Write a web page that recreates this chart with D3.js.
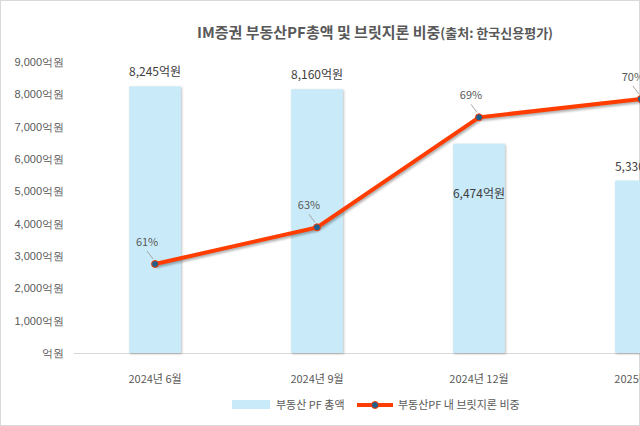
<!DOCTYPE html>
<html><head><meta charset="utf-8">
<script src="https://cdn.jsdelivr.net/npm/d3@7"></script>
<style>body{margin:0;overflow:hidden;background:#fff}</style>
</head><body>
<script>
// values
var categories = ["2024년 6월", "2024년 9월", "2024년 12월", "2025년 3월"];
var pfTotal = [8245, 8160, 6474, 5330];     // 억원
var bridgeShare = [61, 63, 69, 70];          // %
var yTicks = [0, 1000, 2000, 3000, 4000, 5000, 6000, 7000, 8000, 9000];

var width = 640, height = 426;
var font = "'Noto Sans CJK KR', 'Noto Sans', sans-serif";

var svg = d3.select("body").append("svg")
    .attr("width", width)
    .attr("height", height)
    .style("font-family", font);

svg.append("rect").attr("x", 0.5).attr("y", 0.5)
    .attr("width", width - 1).attr("height", height - 1)
    .attr("fill", "#fff").attr("stroke", "#d9d9d9");

svg.append("text").attr("x", 375).attr("y", 38).attr("text-anchor", "middle")
    .attr("fill", "#595959").attr("font-size", 15).attr("font-weight", "bold")
    .text("IM증권 부동산PF총액 및 브릿지론 비중")
    .append("tspan").attr("font-size", 13).text("(출처: 한국신용평가)");

// band scale spans past the right edge; the picture is cropped there
var x = d3.scaleBand().domain(categories).range([19, 777]).padding(0.68);
var y = d3.scaleLinear().domain([0, 9000]).range([353, 62]);
var yp = d3.scaleLinear().domain([61, 70]).range([264, 99]);

var yAxis = svg.append("g").attr("transform", "translate(64,0)")
    .call(d3.axisLeft(y).tickValues(yTicks).tickSize(0).tickPadding(0)
      .tickFormat(function(d){ return d === 0 ? "억원" : d3.format(",")(d) + "억원"; }));
yAxis.select(".domain").remove();
yAxis.selectAll("text").attr("fill", "#595959").attr("font-size", 11);

svg.append("line").attr("x1", 74).attr("x2", width).attr("y1", 353.5).attr("y2", 353.5)
    .attr("stroke", "#d9d9d9");

var xAxis = svg.append("g").attr("transform", "translate(0,353)")
    .call(d3.axisBottom(x).tickSize(0).tickPadding(22));
xAxis.select(".domain").remove();
xAxis.selectAll("text").attr("fill", "#595959").attr("font-size", 11).style("font-family", font);

svg.selectAll("rect.bar").data(pfTotal).enter().append("rect")
    .attr("class", "bar")
    .attr("x", function(d, i){ return x(categories[i]); })
    .attr("y", function(d){ return y(d); })
    .attr("width", x.bandwidth())
    .attr("height", function(d){ return y(0) - y(d); })
    .attr("fill", "#c9ebf9")
    .style("filter", "drop-shadow(1px 1px 1px rgba(0,0,0,0.25))");

svg.selectAll("text.blab").data(pfTotal).enter().append("text")
    .attr("class", "blab")
    .attr("x", function(d, i){ return x(categories[i]) + x.bandwidth() / 2; })
    .attr("y", function(d, i){ return i === 2 ? y(d) + 54 : y(d) - 10; })
    .attr("text-anchor", "middle").attr("fill", "#404040").attr("font-size", 12)
    .text(function(d){ return d3.format(",")(d) + "억원"; });

var cx = function(d, i){ return x(categories[i]) + x.bandwidth() / 2; };

svg.append("path").datum(bridgeShare)
    .attr("d", d3.line().x(cx).y(function(d){ return yp(d); }))
    .attr("fill", "none").attr("stroke", "#ff3d00").attr("stroke-width", 4)
    .style("filter", "drop-shadow(1px 2px 1px rgba(0,0,0,0.3))");

svg.selectAll("circle.pt").data(bridgeShare).enter().append("circle")
    .attr("class", "pt").attr("cx", cx).attr("cy", function(d){ return yp(d); })
    .attr("r", 3.5).attr("fill", "#1f5f8b").attr("stroke", "#ff3d00").attr("stroke-width", 1);

svg.selectAll("line.lead").data(bridgeShare).enter().append("line")
    .attr("class", "lead")
    .attr("x1", function(d, i){ return cx(d, i) - 2; }).attr("x2", function(d, i){ return cx(d, i) - 8; })
    .attr("y1", function(d){ return yp(d) - 5; }).attr("y2", function(d){ return yp(d) - 13; })
    .attr("stroke", "#a6a6a6");

svg.selectAll("text.plab").data(bridgeShare).enter().append("text")
    .attr("class", "plab")
    .attr("x", function(d, i){ return cx(d, i) - 8; })
    .attr("y", function(d){ return yp(d) - 18; })
    .attr("text-anchor", "middle").attr("fill", "#595959").attr("font-size", 11)
    .text(function(d){ return d + "%"; });

// legend
var lg = svg.append("g").attr("font-size", 11).attr("fill", "#595959");
lg.append("rect").attr("x", 232).attr("y", 400).attr("width", 38).attr("height", 9).attr("fill", "#c9ebf9");
lg.append("text").attr("x", 276).attr("y", 409).text("부동산 PF 총액");
lg.append("line").attr("x1", 357).attr("x2", 393).attr("y1", 405).attr("y2", 405)
    .attr("stroke", "#ff3d00").attr("stroke-width", 4);
lg.append("circle").attr("cx", 375).attr("cy", 405).attr("r", 3.5)
    .attr("fill", "#1f5f8b").attr("stroke", "#ff3d00");
lg.append("text").attr("x", 398).attr("y", 409).text("부동산PF 내 브릿지론 비중");
</script>
</body></html>
